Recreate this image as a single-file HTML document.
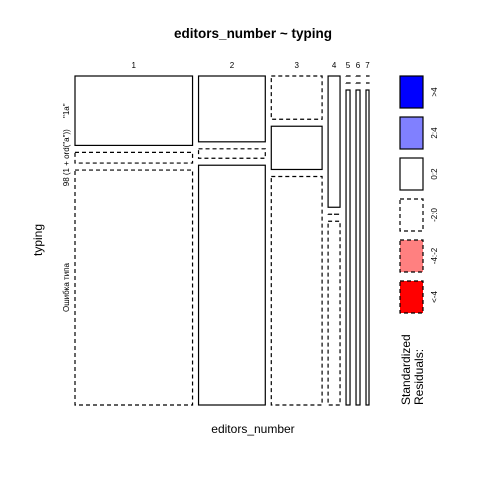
<!DOCTYPE html>
<html><head><meta charset="utf-8"><style>
html,body{margin:0;padding:0;background:#fff}
svg text{font-family:"Liberation Sans","DejaVu Sans",sans-serif}
</style></head><body>
<svg id="chart" width="480" height="480" viewBox="0 0 480 480" xmlns="http://www.w3.org/2000/svg">
<rect width="480" height="480" fill="#fff"/>
<text x="253" y="38" font-size="13.5" font-weight="bold" text-anchor="middle">editors_number ~ typing</text>
<text x="253" y="433" font-size="12" text-anchor="middle">editors_number</text>
<text x="0" y="0" font-size="12" text-anchor="middle" transform="translate(42,240) rotate(-90)">typing</text>
<g id="cells"></g>
<g id="labels"></g>
<g id="legend"></g>
<text font-size="12" transform="translate(410,405) rotate(-90)">Standardized</text>
<text font-size="12" transform="translate(423,405) rotate(-90)">Residuals:</text>
</svg>
<script>
const columns = ["1","2","3","4","5","6","7"];
const rows = ["\"1a\"", "98 (1 + ord(\"a\"))", "Ошибка типа"];
const counts = [
  [26,4,88],
  [14,2,51],
  [7,7,37],
  [5,0,7],
  [0,0,4],
  [0,0,4],
  [0,0,3]
];
const residualSigns = [
  [1,-1,-1],
  [1,-1,1],
  [-1,1,-1],
  [1,-1,-1],
  [-1,-1,1],
  [-1,-1,1],
  [-1,-1,1]
];
const legendLabels = [">4","2:4","0:2","-2:0","-4:-2","<-4"];
const legendFills = ["#0000ff","#8080ff","#ffffff","#ffffff","#ff8080","#ff0000"];
const legendDashed = [false,false,false,true,true,true];

const NS="http://www.w3.org/2000/svg";
const X0=75, X1=369, Y0=76, Y1=405, GX=6, GY=7;
const cellsG=document.getElementById('cells');
const labelsG=document.getElementById('labels');
const legendG=document.getElementById('legend');
function mk(tag,attrs,parent){const e=document.createElementNS(NS,tag);for(const k in attrs)e.setAttribute(k,attrs[k]);parent.appendChild(e);return e;}
const colTotals=counts.map(c=>c.reduce((a,b)=>a+b,0));
const grand=colTotals.reduce((a,b)=>a+b,0);
const availW=(X1-X0)-GX*(columns.length-1);
const availH=(Y1-Y0)-GY*(rows.length-1);
let x=X0;
columns.forEach((c,ci)=>{
  const w=colTotals[ci]/grand*availW;
  const t=mk('text',{x:x+w/2,y:68,'font-size':8,'text-anchor':'middle'},labelsG);
  t.textContent=c;
  
  
  let y=Y0;
  rows.forEach((r,ri)=>{
    const h=counts[ci][ri]/colTotals[ci]*availH;
    const dashed=residualSigns[ci][ri]<0;
    const rect=mk('rect',{x:x,y:y,width:w,height:Math.max(h,0.01),fill:'#fff',stroke:'#000','stroke-width':1.2},cellsG);
    if(dashed) rect.setAttribute('stroke-dasharray','4,3');
    
    
    if(ci===0){
      const lt=mk('text',{'font-size':8,'text-anchor':'middle',transform:'translate(69,'+(y+h/2)+') rotate(-90)'},labelsG);
      lt.textContent=r;
      
      
    }
    y+=h+GY;
  });
  x+=w+GX;
});
legendLabels.forEach((l,i)=>{
  const y=76+i*41;
  const r=mk('rect',{x:400,y:y,width:23,height:32,fill:legendFills[i],stroke:'#000','stroke-width':1.2},legendG);
  if(legendDashed[i]) r.setAttribute('stroke-dasharray','4,3');
  
  
  const t=mk('text',{'font-size':8,'text-anchor':'middle',transform:'translate(437,'+(y+16)+') rotate(-90)'},legendG);
  t.textContent=l;
  
  
});
</script>
</body></html>
